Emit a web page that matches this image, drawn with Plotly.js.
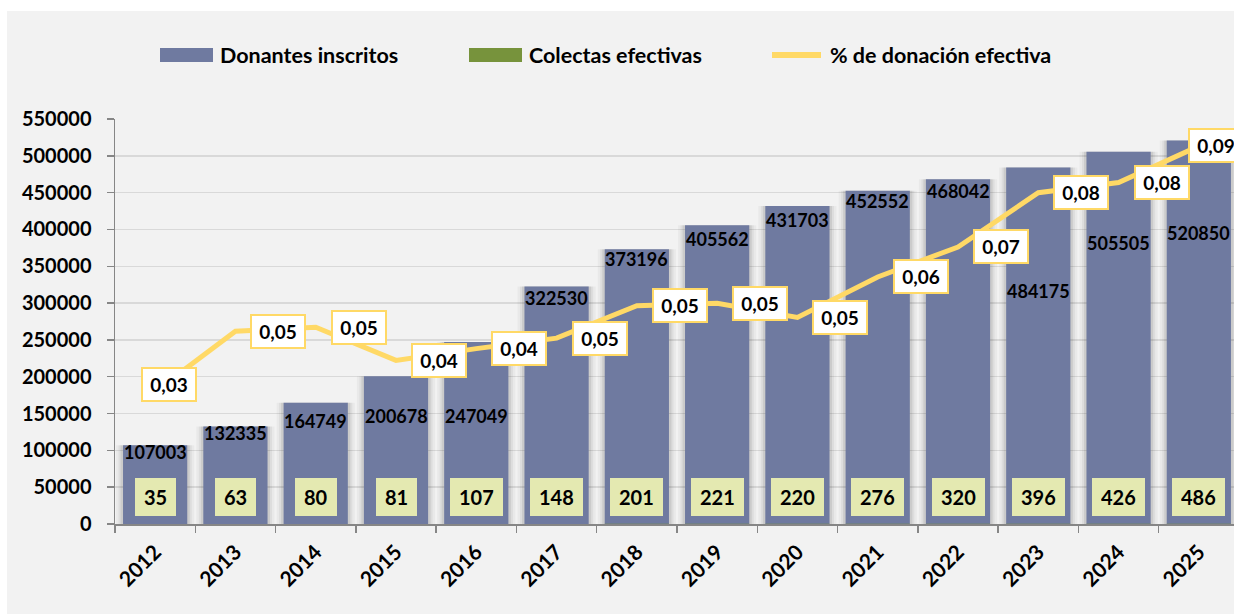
<!DOCTYPE html>
<html>
<head>
<meta charset="utf-8">
<script src="https://cdn.plot.ly/plotly-3.0.1.min.js"></script>
<style>
html,body{margin:0;padding:0;background:#ffffff;overflow:hidden;width:1234px;height:614px;}
#chart{position:absolute;left:7px;top:11px;width:1240px;height:603px;}
</style>
</head>
<body>
<div id="chart"></div>
<script>
// ---- data ----
const years = ['2012','2013','2014','2015','2016','2017','2018','2019','2020','2021','2022','2023','2024','2025'];
const donantes = [107003,132335,164749,200678,247049,322530,373196,405562,431703,452552,468042,484175,505505,520850];
const colectas = [35,63,80,81,107,148,201,221,220,276,320,396,426,486];
const pctDonacion = [0.0327,0.0476,0.0486,0.0404,0.0433,0.0459,0.0539,0.0545,0.0510,0.0610,0.0684,0.0818,0.0843,0.0933];
const yTicks = [0,50000,100000,150000,200000,250000,300000,350000,400000,450000,500000,550000];
const legendNames = ['Donantes inscritos','Colectas efectivas','% de donación efectiva'];

// ---- style ----
const FONT = 'Lato, Open Sans, DejaVu Sans, sans-serif';
const BAR_BLUE = '#6f7aa0';
const BAR_GREEN = '#77933c';
const LINE_YEL = '#ffd966';
const BOX_GREEN = '#e4e9b1';
const AXIS_GRAY = '#868686';
// pixel drop of each "Donantes" label below its bar top (label placement, as in the original)
const donLabelDrop = [7,6,18,40,74,11,10,14,14,10,12,124,91,93];
// plot area in page pixels (used for the hand-drawn legend)
const PL = 115, PT = 119, PW = 1124, PH = 405;
const px2x = p => (p - PL) / PW;
const px2y = p => (PT + PH - p) / PH;
const catPx = 1 / (PW / years.length);

const traces = [];
// soft shadows behind the blue bars
[[14,0.035],[9,0.05],[5,0.08]].forEach(([w,a]) => {
  traces.push({type:'bar', x:years, y:donantes, width:0.8 + w*catPx,
    marker:{color:'rgba(0,0,0,'+a+')', line:{width:0}}, hoverinfo:'skip', showlegend:false});
});
traces.push({type:'bar', name:legendNames[0], x:years, y:donantes, width:0.8,
  marker:{color:BAR_BLUE, line:{width:0}}, showlegend:false});
traces.push({type:'bar', name:legendNames[1], x:years, y:colectas, width:0.8,
  marker:{color:BAR_GREEN, line:{width:0}}, showlegend:false});
traces.push({type:'scatter', mode:'lines', name:legendNames[2], x:years, y:pctDonacion, yaxis:'y2',
  line:{color:LINE_YEL, width:5}, showlegend:false});

const annotations = [];
// Donantes labels
years.forEach((yr,i) => {
  annotations.push({xref:'x', yref:'y', x:i, y:donantes[i], text:'<b>' + donantes[i] + '</b>',
    showarrow:false, xanchor:'center', yanchor:'middle', yshift:-donLabelDrop[i],
    font:{family:FONT, size:18, color:'#000000'}});
});
// Colectas labels (boxes near the base)
years.forEach((yr,i) => {
  annotations.push({xref:'x', yref:'y', x:i, y:colectas[i], text:'<b>' + colectas[i] + '</b>',
    showarrow:false, xanchor:'center', yanchor:'middle', yshift:27,
    bgcolor:BOX_GREEN, borderpad:9, borderwidth:0, height:20,
    font:{family:FONT, size:20, color:'#000000'}});
});
// % labels
years.forEach((yr,i) => {
  let xs = 15, ys = 0;
  if (i === 0) { xs = -14; ys = 7; }
  if (i === years.length - 1) { xs = -11; ys = 1; }
  annotations.push({xref:'x', yref:'y2', x:i, y:pctDonacion[i],
    text:'<b>' + pctDonacion[i].toFixed(2).replace('.', ',') + '</b>',
    showarrow:false, xanchor:'left', yanchor:'middle', xshift:xs, yshift:ys,
    bgcolor:'#ffffff', bordercolor:LINE_YEL, borderwidth:2, borderpad:3, width:46, height:25,
    font:{family:FONT, size:19, color:'#000000'}});
});
// legend texts
const legTextX = [218, 527, 828];
legendNames.forEach((nm,i) => {
  annotations.push({xref:'paper', yref:'paper', x:px2x(legTextX[i]), y:px2y(55), text:'<b>' + nm + '</b>',
    showarrow:false, xanchor:'left', yanchor:'middle',
    font:{family:FONT, size:21.5, color:'#000000'}});
});

const shapes = [
  {type:'rect', xref:'paper', yref:'paper', x0:px2x(160), x1:px2x(213), y0:px2y(62), y1:px2y(48),
   fillcolor:BAR_BLUE, line:{width:0}},
  {type:'rect', xref:'paper', yref:'paper', x0:px2x(469), x1:px2x(522), y0:px2y(62), y1:px2y(48),
   fillcolor:BAR_GREEN, line:{width:0}},
  {type:'line', xref:'paper', yref:'paper', x0:px2x(772), x1:px2x(821), y0:px2y(55), y1:px2y(55),
   line:{color:LINE_YEL, width:6}}
];

const layout = {
  width:1240, height:603,
  margin:{l:108, r:8, t:108, b:90},
  paper_bgcolor:'#f2f2f2', plot_bgcolor:'#f2f2f2',
  barmode:'overlay',
  showlegend:false,
  font:{family:FONT, color:'#000000'},
  xaxis:{type:'category', range:[-0.5, years.length - 0.5], tickson:'boundaries',
    ticks:'outside', ticklen:7, tickwidth:1.5, tickcolor:AXIS_GRAY,
    showline:true, linecolor:AXIS_GRAY, linewidth:1.5, showgrid:false,
    tickangle:-45, ticklabelstandoff:6,
    tickfont:{family:FONT, size:21, color:'#000000', weight:700}},
  yaxis:{range:[0, 550000], tickvals:yTicks, ticktext:yTicks.map(String),
    showgrid:true, gridcolor:'#d9d9d9', gridwidth:1.5, zeroline:false,
    showline:true, linecolor:AXIS_GRAY, linewidth:1.5,
    ticks:'outside', ticklen:7, tickwidth:1.5, tickcolor:AXIS_GRAY, ticklabelstandoff:11,
    tickfont:{family:FONT, size:20, color:'#000000', weight:700}},
  yaxis2:{overlaying:'y', range:[0, 0.1], visible:false},
  annotations:annotations,
  shapes:shapes
};

Plotly.newPlot('chart', traces, layout, {displayModeBar:false, staticPlot:true});
</script>
</body>
</html>
